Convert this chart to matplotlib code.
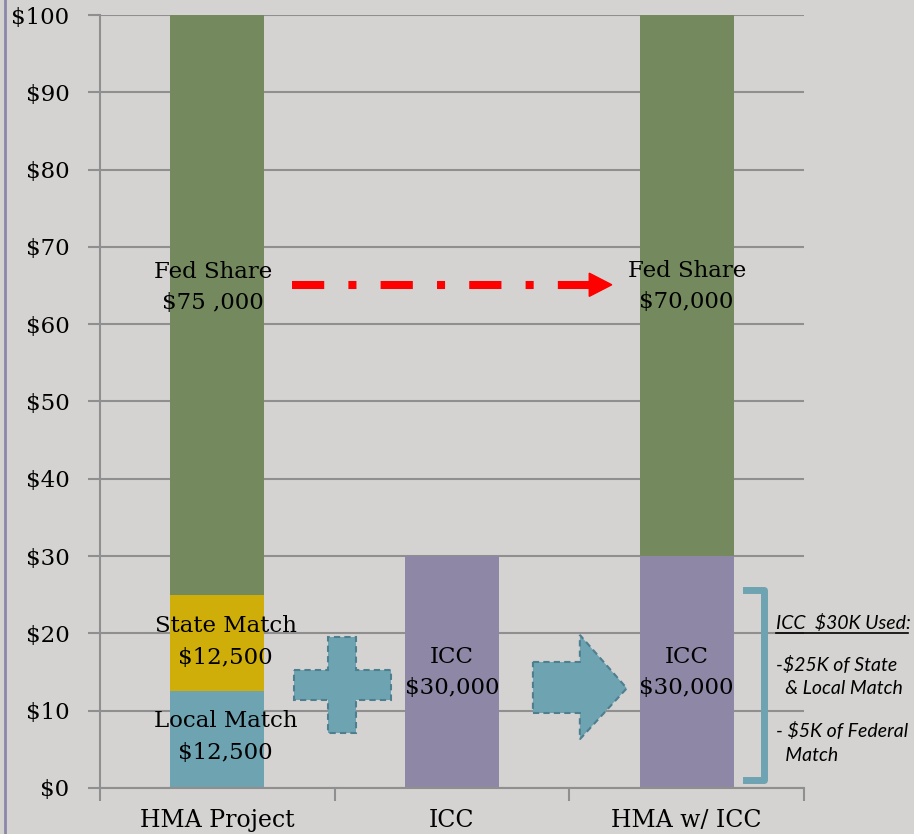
import matplotlib.pyplot as plt
from matplotlib.patches import Polygon
from matplotlib.lines import Line2D

categories = ["HMA Project", "ICC", "HMA w/ ICC"]
local_match = [12.5, 0, 0]
state_match = [12.5, 0, 0]
icc = [0, 30, 30]
fed_share = [75, 0, 70]
yticks = [0, 10, 20, 30, 40, 50, 60, 70, 80, 90, 100]

bg = "#D4D3D1"
green = "#748A5E"
gold = "#CFAE0A"
blue = "#6EA3B2"
purple = "#8E88A6"
grid = "#8F8F8F"
serif = "DejaVu Serif"

fig = plt.figure(figsize=(9.14, 8.34), dpi=100, facecolor=bg)
ax = fig.add_axes([0.1094, 0.0552, 0.7702, 0.9268], facecolor=bg)

x = list(range(len(categories)))
w = 0.4
b1 = local_match
b2 = [a + b for a, b in zip(b1, state_match)]
b3 = [a + b for a, b in zip(b2, icc)]
ax.bar(x, local_match, w, color=blue, zorder=2)
ax.bar(x, state_match, w, bottom=b1, color=gold, zorder=2)
ax.bar(x, icc, w, bottom=b2, color=purple, zorder=2)
ax.bar(x, fed_share, w, bottom=b3, color=green, zorder=2)

ax.set_xlim(-0.5, 2.5)
ax.set_ylim(0, 100)
ax.set_yticks(yticks)
ax.set_yticklabels([f"${v}" for v in yticks], fontsize=16.5, family=serif)
ax.yaxis.grid(True, color=grid, lw=1.5, zorder=0)
ax.set_xticks([-0.5, 0.5, 1.5, 2.5])
ax.set_xticklabels([])
ax.set_xticks(x, minor=True)
ax.set_xticklabels(categories, minor=True, fontsize=17, family=serif)
ax.tick_params(axis="x", which="minor", length=0, pad=15)
ax.tick_params(axis="both", which="major", length=9, width=1.5, color=grid)
ax.tick_params(axis="y", pad=13)
for s in ["top", "right"]:
    ax.spines[s].set_visible(False)
for s in ["left", "bottom"]:
    ax.spines[s].set_color(grid)
    ax.spines[s].set_linewidth(1.5)

tkw = dict(ha="center", va="center", fontsize=16.5, family=serif, linespacing=1.55, zorder=5)
ax.text(-0.02, 64.75, "Fed Share\n$75 ,000", **tkw)
ax.text(2.0, 64.9, "Fed Share\n$70,000", **tkw)
ax.text(0.035, 18.9, "State Match\n$12,500", **tkw)
ax.text(0.035, 6.6, "Local Match\n$12,500", **tkw)
ax.text(1.0, 14.9, "ICC\n$30,000", **tkw)
ax.text(2.0, 14.9, "ICC\n$30,000", **tkw)

# red dash-dot arrow
ax.plot([0.32, 1.587], [65.1, 65.1], color="red", lw=5.8, zorder=4,
        dashes=(4, 3, 1, 3), solid_capstyle="butt", dash_capstyle="butt")
ax.add_patch(Polygon([[1.585, 66.6], [1.681, 65.1], [1.585, 63.6]], closed=True,
                     color="red", zorder=4))

# plus sign
px = [0.325, 0.47, 0.47, 0.59, 0.59, 0.74, 0.74, 0.59, 0.59, 0.47, 0.47, 0.325]
py = [15.3, 15.3, 19.5, 19.5, 15.3, 15.3, 11.4, 11.4, 7.1, 7.1, 11.4, 11.4]
ax.add_patch(Polygon(list(zip(px, py)), closed=True, facecolor=blue,
                     edgecolor="#4E7F8E", ls=(0, (3, 2)), lw=1.5, zorder=3))

# block arrow
ax.add_patch(Polygon([[1.345, 16.3], [1.545, 16.3], [1.545, 19.8], [1.745, 12.9],
                      [1.545, 6.3], [1.545, 9.7], [1.345, 9.7]], closed=True,
                     facecolor=blue, edgecolor="#4E7F8E", ls=(0, (3, 2)), lw=1.5, zorder=3))

# bracket
ax.plot([2.255, 2.33, 2.33, 2.255], [25.6, 25.6, 1.0, 1.0], color=blue, lw=5,
        solid_joinstyle="round", clip_on=False, zorder=3)

sans = "Lato"
fs = 14
fig.text(0.849, 0.246, "ICC  $30K Used:", fontsize=fs, style="italic",
         family=sans, va="baseline")
fig.add_artist(Line2D([0.849, 0.993], [0.241, 0.241], color="black", lw=1.2))
fig.text(0.849, 0.214, "-$25K of State\n  & Local Match", fontsize=fs,
         style="italic", family=sans, va="top", linespacing=1.45)
fig.text(0.849, 0.134, "- $5K of Federal\n  Match", fontsize=fs,
         style="italic", family=sans, va="top", linespacing=1.45)

# left border of slide
fig.add_artist(Line2D([0.0055, 0.0055], [0, 1], color="#8A87A8", lw=2))

fig.savefig("out.png", dpi=100, facecolor=bg)
